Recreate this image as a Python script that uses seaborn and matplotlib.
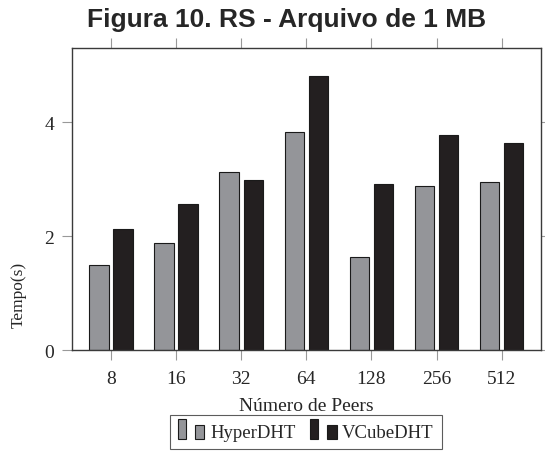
import matplotlib
matplotlib.use("Agg")
import matplotlib.pyplot as plt
from matplotlib.patches import Rectangle
from matplotlib.legend_handler import HandlerBase
import seaborn as sns
import pandas as pd

peers = ["8", "16", "32", "64", "128", "256", "512"]
hyper = [1.49, 1.88, 3.12, 3.83, 1.63, 2.88, 2.94]
vcube = [2.12, 2.56, 2.99, 4.81, 2.91, 3.78, 3.64]
series = ["HyperDHT", "VCubeDHT"]
colors = ["#949599", "#231f20"]

df = pd.DataFrame({
    "peers": peers * 2,
    "tempo": hyper + vcube,
    "serie": [series[0]] * len(peers) + [series[1]] * len(peers),
})

sns.set_theme(style="white")
plt.rcParams["font.family"] = ["Liberation Serif", "DejaVu Serif"]

fig = plt.figure(figsize=(5.45, 4.52), dpi=100)
ax = fig.add_axes([72 / 545, 1 - 351 / 452, (540.7 - 72) / 545, (351 - 49) / 452])

sns.barplot(data=df, x="peers", y="tempo", hue="serie", order=peers,
            hue_order=series, palette=colors, width=0.74, gap=0.19,
            edgecolor="#1a1a1a", linewidth=0.8, saturation=1, ax=ax,
            legend=False)

ax.set_xlim(-0.6, 6.6)
ax.set_ylim(0, 5.3)
ax.set_yticks([0, 2, 4])
ax.set_yticklabels(["0", "2", "4"])
ax.set_xlabel("Número de Peers", fontsize=14)
ax.set_ylabel("Tempo(s)", fontsize=12.5)
ax.xaxis.label.set_va("center")
ax.xaxis.set_label_coords(0.5, (351 - 406.5) / 302)
ax.yaxis.label.set_va("center")
ax.yaxis.label.set_ha("center")
ax.yaxis.set_label_coords((19 - 72) / 468.7, (351 - 295) / 302)
for s in ax.spines.values():
    s.set_visible(True)
    s.set_color("#3a3a3a")
    s.set_linewidth(1.0)
ax.tick_params(axis="both", which="major", direction="out", length=7,
               width=0.8, color="#999999", labelsize=14,
               top=True, right=True, bottom=True, left=True,
               labeltop=False, labelright=False)
ax.tick_params(axis="x", pad=7.5)
ax.tick_params(axis="y", pad=6)


class TwoBarHandler(HandlerBase):
    def create_artists(self, legend, orig_handle, xdescent, ydescent,
                       width, height, fontsize, trans):
        fc = orig_handle.get_facecolor()
        ec = orig_handle.get_edgecolor()
        x0 = -xdescent
        y0 = -ydescent - 0.15 * height
        r1 = Rectangle((x0, y0), width * 0.3, height * 1.5,
                       facecolor=fc, edgecolor=ec, linewidth=0.8,
                       transform=trans)
        r2 = Rectangle((x0 + width * 0.64, y0), width * 0.36, height * 1.0,
                       facecolor=fc, edgecolor=ec, linewidth=0.8,
                       transform=trans)
        return [r1, r2]


handles = [Rectangle((0, 0), 1, 1, facecolor=c, edgecolor="#1a1a1a") for c in colors]
leg = fig.legend(handles, series, loc="upper center",
                 bbox_to_anchor=(306 / 545, 1 - 416 / 452), ncol=2,
                 handler_map={Rectangle: TwoBarHandler()},
                 fontsize=13.5, frameon=True, fancybox=False,
                 edgecolor="#333333", handlelength=1.4, handleheight=0.7,
                 handletextpad=0.3, columnspacing=0.8, borderpad=0.45,
                 borderaxespad=0)
leg.get_frame().set_linewidth(0.8)

fig.text(287 / 545, 1 - 27 / 452, "Figura 10. RS - Arquivo de 1 MB",
         ha="center", va="baseline", fontsize=19, fontweight="bold",
         family=["Liberation Sans", "DejaVu Sans"])

fig.savefig("out.png", dpi=100)
